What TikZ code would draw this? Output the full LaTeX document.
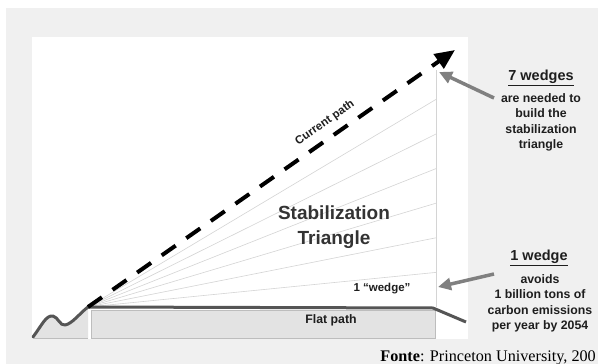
\documentclass[tikz,border=0pt]{standalone}
\usepackage{fontspec}
\setmainfont{Liberation Serif}
\newfontfamily\arial{Liberation Sans}
\usetikzlibrary{arrows.meta}
\definecolor{bggray}{HTML}{F0F0F0}
\definecolor{flatfill}{HTML}{E3E3E3}
\definecolor{flatborder}{HTML}{BDBDBD}
\definecolor{darkline}{HTML}{555555}
\definecolor{fangray}{HTML}{D4D4D4}
\definecolor{arrowgray}{HTML}{808080}
\definecolor{txt}{HTML}{1E1E1E}
\definecolor{bigtxt}{HTML}{333333}
\begin{document}
\begin{tikzpicture}[x=1pt,y=-1pt,
  fan/.style={fangray, line width=0.6pt},
  histline/.style={darkline, line width=3pt, line join=round, line cap=round},
  flatline/.style={darkline, line width=3pt, line join=round},
  flatbox/.style={fill=flatfill, draw=flatborder, line width=0.6pt},
  dashpath/.style={black, line width=4pt, dash pattern=on 17pt off 13pt, -{Triangle[length=20pt,width=17pt]}},
  grayarrow/.style={arrowgray, line width=3.5pt, -{Triangle[length=13pt,width=12pt]}},
  smalltxt/.style={text=txt, font=\arial\bfseries\fontsize{11.5}{14}\selectfont, inner sep=0pt},
  bodytxt/.style={text=txt, font=\arial\bfseries\fontsize{12.3}{15.6}\selectfont, align=center, inner sep=0pt},
  headtxt/.style={text=txt, font=\arial\bfseries\fontsize{14.5}{17}\selectfont, inner sep=0pt},
  bigtext/.style={text=bigtxt, font=\arial\bfseries\fontsize{19}{25}\selectfont, align=center, inner sep=0pt}
]
\useasboundingbox (0,0) rectangle (598,364);
\fill[white] (0,0) rectangle (598,364);
\fill[bggray] (6,8) rectangle (598,364);
\fill[white] (32,37) rectangle (468,339);

\coordinate (O) at (88,307);
\coordinate (top) at (455,50);
\coordinate (vtop) at (436,70);
\coordinate (vbot) at (436,307);

% fan of wedge lines
\foreach \k in {1,...,6} {
  \coordinate (w\k) at (436,{307-34.6*\k});
  \draw[fan] (O) -- (w\k);
}
\draw[fangray, line width=0.8pt] (vtop) -- (vbot);

% history region
\fill[flatfill] (33,338) -- (33,337) .. controls (42,325) and (46,315) .. (53,316)
  .. controls (58,317) and (60,326) .. (65,325)
  .. controls (72,324) and (80,313) .. (O) -- (88,338) -- cycle;
\draw[flatborder, line width=0.6pt] (33,338) -- (88,338);

% flat path box
\draw[flatbox] (91,310) rectangle (435,338);
\node[smalltxt, font=\arial\bfseries\fontsize{12.3}{14}\selectfont] (flat) at (331,320) {Flat path};
\draw[white, line width=1.3pt, dash pattern=on 1.6pt off 2pt] (89.5,311) -- (89.5,338);

% history curve and flat line
\draw[histline] (33,337) .. controls (42,325) and (46,315) .. (53,316)
  .. controls (58,317) and (60,326) .. (65,325)
  .. controls (72,324) and (80,313) .. (O);
\coordinate (fr) at (433,308);
\coordinate (fe) at (466,322);
\draw[flatline] (O) -- (fr) -- (fe);

% current path
\draw[dashpath] (O) -- (top);
\node[smalltxt, rotate=35] (cp) at (325,123) {Current path};

% labels in the triangle
\node[bigtext] (st) at (334,227) {Stabilization\\Triangle};
\node[smalltxt] (onew) at (382,289) {1 “wedge”};

% right annotations
\node[headtxt] (h7) at (541,78) {\underline{7 wedges}};
\node[bodytxt, anchor=north] (t7) at (541,93) {are needed to\\build the\\stabilization\\triangle};
\coordinate (a1s) at (494,98);
\coordinate (a1e) at (439,72);
\draw[grayarrow] (a1s) -- (a1e);

\node[headtxt] (h1) at (539,258) {\underline{1 wedge}};
\node[bodytxt, anchor=north] (t1) at (540,274) {avoids\\1 billion tons of\\carbon emissions\\per year by 2054};
\coordinate (a2s) at (494,274);
\coordinate (a2e) at (438,287);
\draw[grayarrow] (a2s) -- (a2e);

% source
\node[anchor=base east, inner sep=0pt, text=black, font=\fontsize{16.2}{19}\selectfont] (src) at (596,361) {\textbf{Fonte}: Princeton University, 200};
\end{tikzpicture}
\end{document}
